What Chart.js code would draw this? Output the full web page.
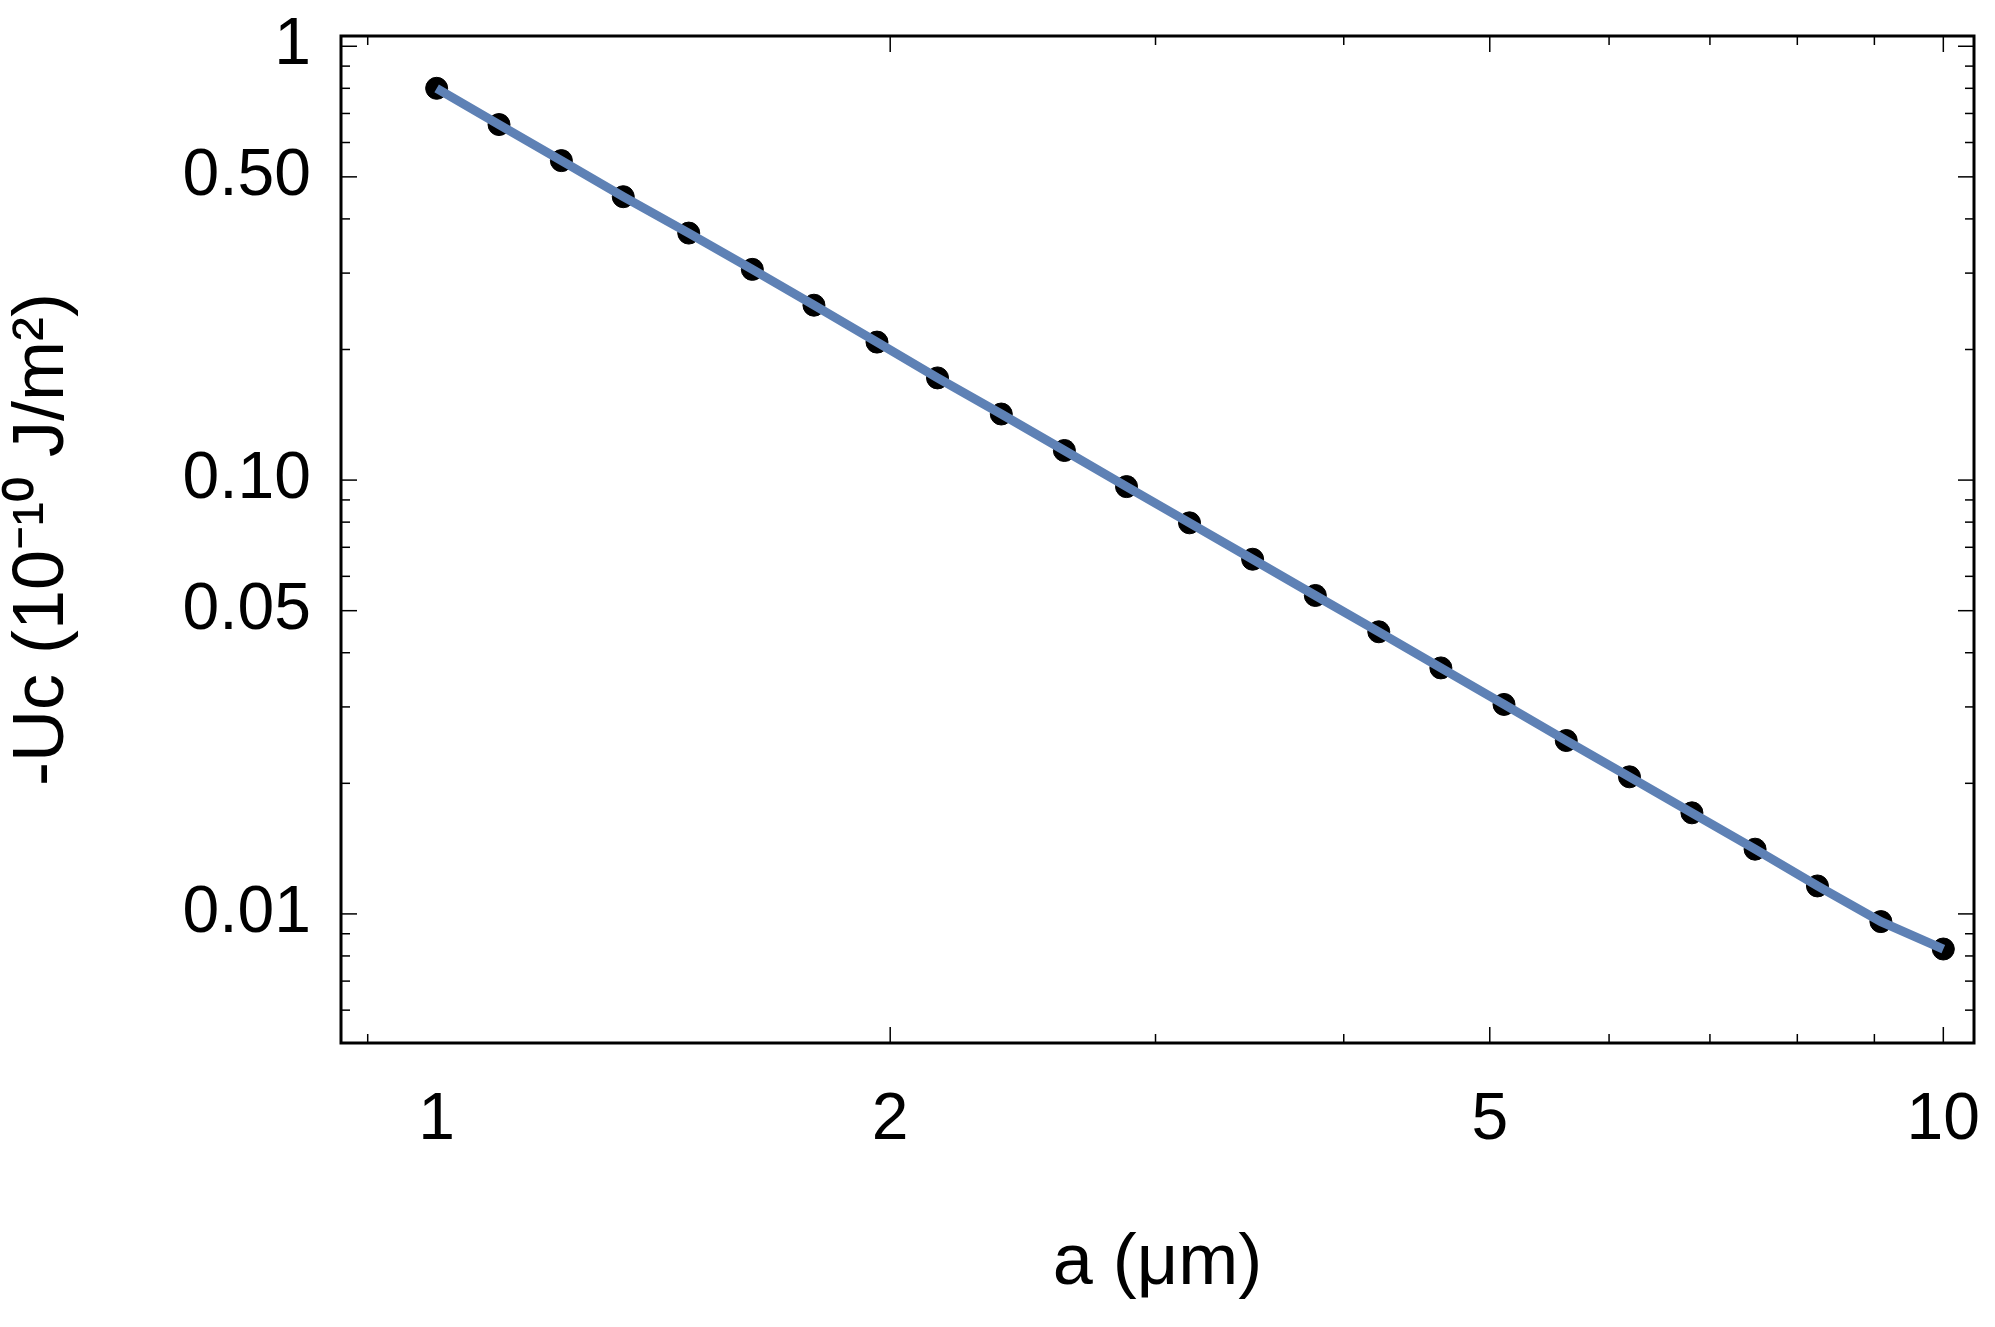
<!DOCTYPE html>
<html><head><meta charset="utf-8">
<script src="https://cdn.jsdelivr.net/npm/chart.js@4"></script>
<style>html,body{margin:0;padding:0;background:#fff}#w{width:1995px;height:1327px}</style>
</head><body><div id="w"><canvas id="c"></canvas></div>
<script>
const aValues = [1,1.10,1.21,1.33,1.47,1.62,1.78,1.96,2.15,2.37,2.61,2.87,3.16,3.48,3.83,4.22,4.64,5.11,5.62,6.19,6.81,7.50,8.25,9.09,10];
const uValues = [0.80,0.66,0.545,0.45,0.371,0.306,0.253,0.208,0.172,0.142,0.117,0.0966,0.0797,0.0657,0.0542,0.0447,0.0369,0.0304,0.0251,0.0207,0.0171,0.0141,0.0116,0.0096,0.0083];
const xTickLabels = [1,2,5,10];
const yTickLabels = [1,0.5,0.1,0.05,0.01];
const yLabelText = {1:'1',0.5:'0.50',0.1:'0.10',0.05:'0.05',0.01:'0.01'};
const xMinor = [0.9,2,3,4,5,6,7,8,9,10];
const yMinor = [0.006,0.007,0.008,0.009,0.01,0.02,0.03,0.04,0.05,0.06,0.07,0.08,0.09,0.1,0.2,0.3,0.4,0.5,0.6,0.7,0.8,0.9,1];
const pts = aValues.map((a,i)=>({x:a,y:uValues[i]}));
const FONT = 'Liberation Sans';

const frame = {
  id:'frame',
  afterDatasetsDraw(ch){
    const {ctx, chartArea:a, scales:{x,y}} = ch;
    ctx.save();
    ctx.strokeStyle='#000';
    ctx.lineWidth=1.5;
    const tick=(x1,y1,x2,y2)=>{ctx.beginPath();ctx.moveTo(x1,y1);ctx.lineTo(x2,y2);ctx.stroke();};
    xMinor.forEach(v=>{const p=x.getPixelForValue(v);const L=[1,2,5,10].includes(v)?16:9;tick(p,a.bottom,p,a.bottom-L);tick(p,a.top,p,a.top+L);});
    yMinor.forEach(v=>{const p=y.getPixelForValue(v);const L=[1,0.5,0.1,0.05,0.01].includes(v)?16:9;tick(a.left,p,a.left+L,p);tick(a.right,p,a.right-L,p);});
    ctx.lineWidth=3;
    ctx.strokeRect(a.left,a.top,a.right-a.left,a.bottom-a.top);
    ctx.restore();
  }
};

new Chart(document.getElementById('c'),{
  type:'scatter',
  data:{datasets:[
    {data:pts,showLine:true,borderColor:'#5e81b5',borderWidth:9,pointRadius:0,order:0},
    {data:pts,showLine:false,backgroundColor:'#000',borderColor:'#000',pointRadius:11,order:1}
  ]},
  options:{
    responsive:true,maintainAspectRatio:false,animation:false,
    layout:{padding:{top:36,right:21,left:0,bottom:20}},
    plugins:{legend:{display:false},tooltip:{enabled:false}},
    scales:{
      x:{type:'logarithmic',min:0.864,max:10.48,
        grid:{display:false},border:{display:false},
        afterBuildTicks(s){s.ticks=xTickLabels.map(v=>({value:v}));},
        ticks:{callback:v=>String(v),font:{family:FONT,size:66},color:'#000',padding:30,maxRotation:0,autoSkip:false},
        title:{display:true,text:'a (μm)',font:{family:FONT,size:72},color:'#000',padding:{top:70,bottom:0}},
        afterFit(s){s.height=264;s.paddingLeft=0;s.paddingRight=0;}
      },
      y:{type:'logarithmic',min:0.00504,max:1.056,
        grid:{display:false},border:{display:false},
        afterBuildTicks(s){s.ticks=yTickLabels.map(v=>({value:v}));},
        ticks:{callback:v=>yLabelText[v],font:{family:FONT,size:66},color:'#000',padding:22,autoSkip:false},
        title:{display:true,text:'-Uᴄ (10⁻¹⁰ J/m²)',font:{family:FONT,size:72},color:'#000',padding:{top:0,bottom:40}},
        afterFit(s){s.width=341;s.paddingTop=0;s.paddingBottom=0;}
      }
    }
  },
  plugins:[frame]
});
</script></body></html>
